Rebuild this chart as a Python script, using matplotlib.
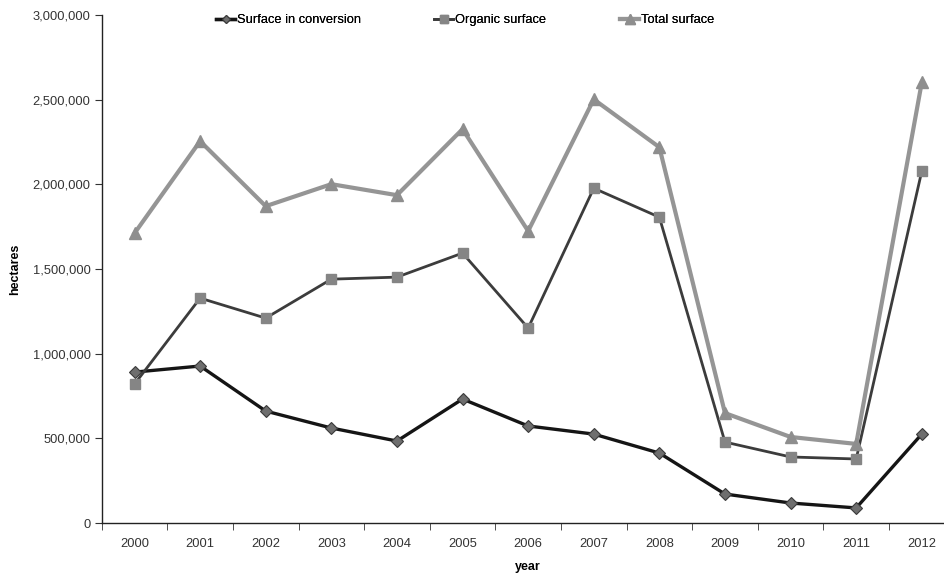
import matplotlib
matplotlib.use("Agg")
import matplotlib.pyplot as plt
import numpy as np
from matplotlib.ticker import FuncFormatter

plt.rcParams['font.family'] = ['Liberation Sans', 'DejaVu Sans']

years = ["2000", "2001", "2002", "2003", "2004", "2005", "2006",
         "2007", "2008", "2009", "2010", "2011", "2012"]
conversion = [891000, 927000, 661000, 561000, 484000, 732000, 573000,
              525000, 413000, 171000, 118000, 89000, 525000]
organic = [820000, 1328000, 1210000, 1440000, 1452000, 1594000, 1151000,
           1977000, 1806000, 478000, 390000, 378000, 2078000]
total = [1711000, 2255000, 1871000, 2001000, 1936000, 2326000, 1724000,
         2502000, 2219000, 649000, 508000, 467000, 2603000]
y_ticks = [0, 500000, 1000000, 1500000, 2000000, 2500000, 3000000]

fig = plt.figure(figsize=(9.45, 5.77), dpi=100)
ax = fig.add_axes([101.7/945, 1-523/577, (954.6-101.7)/945, (523-15)/577])
x = np.arange(len(years))

l1, = ax.plot(x, conversion, color='#151515', lw=2.4, marker='D', ms=6,
              mfc='#6e6e6e', mec='#3a3a3a', mew=0.8, zorder=3, clip_on=False,
              label='Surface in conversion')
l2, = ax.plot(x, organic, color='#3c3c3c', lw=2.0, marker='s', ms=7,
              mfc='#858585', mec='#858585', zorder=4, clip_on=False,
              label='Organic surface')
l3, = ax.plot(x, total, color='#959595', lw=3.0, marker='^', ms=9,
              mfc='#8e8e8e', mec='#8e8e8e', zorder=5, clip_on=False,
              label='Total surface')

ax.set_xlim(-0.5, 12.5)
ax.set_ylim(0, 3000000)
ax.set_yticks(y_ticks)
ax.yaxis.set_major_formatter(FuncFormatter(lambda v, p: f"{int(v):,}"))
ax.set_xticks(x)
ax.set_xticklabels(years)
ax.set_xticks(np.arange(-0.5, 13, 1.0), minor=True)
ax.tick_params(axis='x', which='major', length=0, pad=11, labelsize=9.3, labelcolor='#333333')
ax.tick_params(axis='x', which='minor', length=5, direction='out', color='#333333')
ax.tick_params(axis='y', length=5, direction='out', labelsize=9.3, labelcolor='#333333', pad=3, color='#333333')

for s in ['top', 'right']:
    ax.spines[s].set_visible(False)
for s in ['left', 'bottom']:
    ax.spines[s].set_color('#222222')
    ax.spines[s].set_linewidth(1.0)

ax.set_ylabel('hectares', fontsize=9, fontweight='bold', labelpad=8)
ax.set_xlabel('year', fontsize=9, fontweight='bold', labelpad=8)

positions = [(216/945), (434/945), (620/945)]
for h, px in zip([l1, l2, l3], positions):
    lg = fig.legend(handles=[h], loc='center left', bbox_to_anchor=(px, 1-20/577),
                    frameon=False, fontsize=9.3, handlelength=1.5, handletextpad=0.15,
                    borderpad=0, borderaxespad=0, markerscale=0.75)
    fig.add_artist(lg)

fig.savefig('out.png', dpi=100)
